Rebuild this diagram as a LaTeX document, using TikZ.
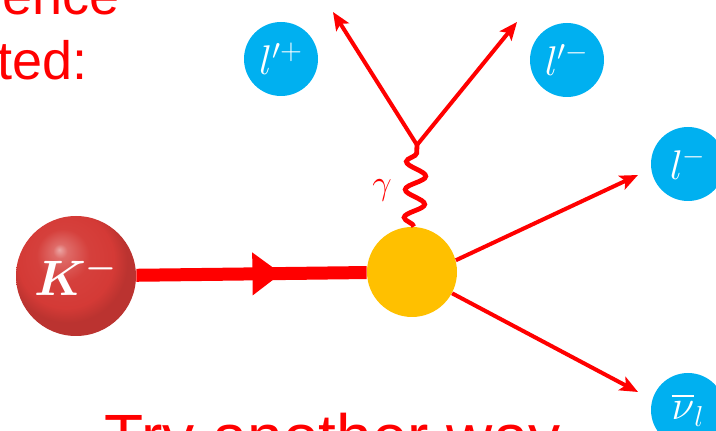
\documentclass[tikz,border=0pt]{standalone}
\usepackage{xcolor}
\usepackage{tikz}
\usepackage{fontspec}
\usepackage{amsmath}
\usetikzlibrary{arrows.meta,decorations.pathmorphing,decorations.markings}
\newfontfamily\slidefont{Liberation Sans}

\definecolor{kaonred}{RGB}{212,58,54}
\definecolor{leptonblue}{RGB}{0,176,240}
\definecolor{vertexyellow}{RGB}{255,192,0}
\pgfdeclareradialshading{kaonball}{\pgfpoint{-7bp}{11bp}}{color(0bp)=(kaonred!45!white); color(3bp)=(kaonred!75!white); color(11bp)=(kaonred!97!white); color(20bp)=(kaonred); color(25bp)=(kaonred!88!black); color(50bp)=(kaonred!88!black)}

\begin{document}
\begin{tikzpicture}[x=0.5pt,y=-0.5pt,
  lepton/.style={circle,fill=leptonblue,minimum size=37pt,inner sep=0pt,text=white,font=\fontsize{20}{20}\selectfont},
  track/.style={red,line width=2pt,-{Stealth[length=9pt,width=7.5pt,inset=2pt]}},
  photon/.style={red,line width=2.4pt,decorate,decoration={snake,segment length=14pt,amplitude=5pt}},
  slide/.style={red,inner sep=0pt,font=\slidefont\fontsize{27}{27}\selectfont}]
\useasboundingbox (0,0) rectangle (716,431);
\clip (0,0) rectangle (716,431);

% text of the slide around the diagram
\node[slide,anchor=base east] (t1) at (120,15) {uence};
\node[slide,anchor=base east] (t2) at (88,80) {ted:};
\node[slide,font=\slidefont\fontsize{32}{32}\selectfont,anchor=base west] (t3) at (104,459) {Try another way};

% kaon and decay vertex
\shade[shading=kaonball] (76,276) circle (30pt);
\node[circle,minimum size=60pt,inner sep=0pt,text=white,font=\fontsize{23}{23}\selectfont] (K) at (76,276) {$\boldsymbol{K^-}$};
\node[circle,fill=vertexyellow,minimum size=45pt,inner sep=0pt] (V) at (412,272) {};

\draw[red,line width=6.5pt,postaction={decorate},
  decoration={markings,mark=at position 0.63 with {\arrow{Triangle[length=14.5pt,width=20.5pt]}}}] (K) -- (V);

% virtual photon and lepton pair
\coordinate (J) at (417,145);
\draw[photon] (V) -- (J);
\node[red,font=\fontsize{16}{16}\selectfont] (gam) at (382,190) {$\gamma$};

\coordinate (lpTip) at (333,12);
\coordinate (lmTip) at (517,22);
\coordinate (lTip) at (638,175);
\coordinate (nuTip) at (638,392);
\draw[track] (J) -- (lpTip);
\draw[track] (J) -- (lmTip);
\draw[track] (V.15) -- (lTip);
\draw[track] (V) -- (nuTip);

% final state leptons
\node[lepton] (lp) at (281,59) {$l'^{+}$};
\node[lepton] (lm) at (567,60) {$l'^{-}$};
\node[lepton] (l) at (688,164) {$l^{-}$};
\node[lepton] (nu) at (688,410) {$\overline{\nu}_l$};
\end{tikzpicture}
\end{document}
